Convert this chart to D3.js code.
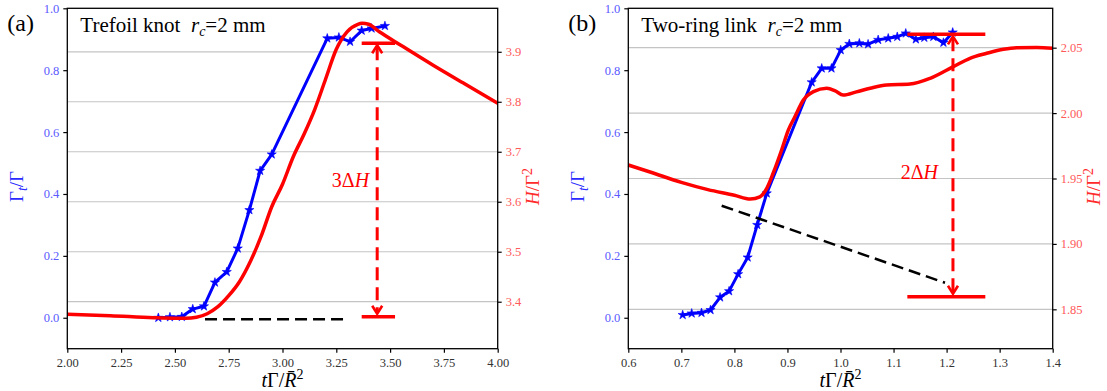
<!DOCTYPE html>
<html>
<head>
<meta charset="utf-8">
<script src="https://cdn.jsdelivr.net/npm/d3@7"></script>
<style>
  body { margin: 0; background: #fff; }
  svg, svg text { font-family: "Liberation Serif", "DejaVu Serif", serif; }
</style>
</head>
<body>
<svg id="chart" width="1107" height="391"></svg>
<script>
// ---- data ----
// shared left axis (Gamma_t / Gamma)
const gammaTicks = [0.0, 0.2, 0.4, 0.6, 0.8, 1.0];

// (a) trefoil knot
const trefoilTimeTicks = [2.00, 2.25, 2.50, 2.75, 3.00, 3.25, 3.50, 3.75, 4.00];
const trefoilHTicks = [3.4, 3.5, 3.6, 3.7, 3.8, 3.9];
const trefoilGammaT = [2.423, 2.477, 2.532, 2.583, 2.635, 2.686, 2.741, 2.792, 2.846, 2.896, 2.950, 3.208, 3.262, 3.314, 3.368, 3.414, 3.476];
const trefoilGammaV = [0.000, 0.002, 0.003, 0.028, 0.037, 0.114, 0.148, 0.224, 0.348, 0.475, 0.528, 0.903, 0.906, 0.892, 0.928, 0.935, 0.943];
const trefoilHelT = [2.00, 2.20, 2.40, 2.50, 2.55, 2.60, 2.65, 2.70, 2.75, 2.80, 2.85, 2.90, 2.95, 3.00, 3.05, 3.10, 3.15, 3.20, 3.25, 3.30, 3.35, 3.37, 3.40, 3.45, 3.55, 3.70, 3.85, 4.00];
const trefoilHelV = [3.375, 3.372, 3.368, 3.367, 3.367, 3.369, 3.376, 3.390, 3.412, 3.440, 3.480, 3.530, 3.590, 3.635, 3.690, 3.735, 3.785, 3.845, 3.905, 3.940, 3.955, 3.957, 3.955, 3.940, 3.913, 3.873, 3.835, 3.797];
const trefoilBaseT = [2.640, 3.306];
const trefoilBaseH = [3.365, 3.365];
const trefoilDeltaH = [3.917, 3.370];   // top / bottom level
const trefoilDeltaT = [3.368, 3.523];   // bar extent
const trefoilArrowT = 3.44;

// (b) two-ring link
const linkTimeTicks = [0.6, 0.7, 0.8, 0.9, 1.0, 1.1, 1.2, 1.3, 1.4];
const linkHTicks = [1.85, 1.90, 1.95, 2.00, 2.05];
const linkGammaT = [0.7025, 0.7195, 0.738, 0.755, 0.773, 0.790, 0.807, 0.825, 0.843, 0.861, 0.9457, 0.9646, 0.983, 1.0004, 1.0166, 1.0355, 1.052, 1.071, 1.090, 1.107, 1.123, 1.142, 1.158, 1.175, 1.194, 1.2115];
const linkGammaV = [0.009, 0.014, 0.016, 0.025, 0.066, 0.086, 0.141, 0.195, 0.300, 0.402, 0.761, 0.806, 0.806, 0.865, 0.885, 0.887, 0.884, 0.898, 0.903, 0.908, 0.919, 0.900, 0.905, 0.908, 0.889, 0.922];
const linkHelT = [0.600, 0.641, 0.700, 0.750, 0.800, 0.830, 0.848, 0.861, 0.873, 0.889, 0.9016, 0.914, 0.930, 0.949, 0.974, 0.990, 1.005, 1.030, 1.056, 1.087, 1.131, 1.169, 1.2126, 1.244, 1.2756, 1.307, 1.332, 1.370, 1.400];
const linkHelV = [1.9603, 1.9550, 1.9470, 1.9415, 1.9372, 1.9343, 1.9360, 1.9425, 1.9540, 1.9718, 1.9870, 1.9972, 2.0100, 2.0164, 2.0190, 2.0170, 2.0138, 2.0162, 2.0190, 2.0215, 2.0222, 2.0266, 2.0355, 2.0419, 2.0457, 2.0488, 2.0500, 2.0502, 2.0495];
const linkBaseT = [0.776, 1.197];
const linkBaseH = [1.9292, 1.8703];
const linkDeltaH = [2.0602, 1.8596];
const linkDeltaT = [1.126, 1.273];
const linkArrowT = 1.212;

// ---- drawing ----
const svg = d3.select("#chart");
const plotTop = 8.3, plotBottom = 348.7;
const blue = "#0000ff", red = "#ff0000";
const blueTick = "#5a5aff", redTick = "#ff5a5a";

function zip(a, b) { return a.map((v, i) => [v, b[i]]); }

function drawPanel(cfg) {
  const x = d3.scaleLinear().domain(cfg.tDomain).range([cfg.left, cfg.right]);
  const yG = d3.scaleLinear().domain([-0.1, 1.0]).range([plotBottom, plotTop]);
  const yH = d3.scaleLinear().domain(cfg.hDomain).range([plotBottom, plotTop]);
  const g = svg.append("g");

  // grid from the right axis
  g.selectAll(".grid").data(cfg.hTicks).join("line")
    .attr("x1", cfg.left).attr("x2", cfg.right)
    .attr("y1", d => yH(d)).attr("y2", d => yH(d))
    .attr("stroke", "#c4c4c4").attr("stroke-width", 1.2);

  // Gamma_t / Gamma with star markers
  const gammaPts = zip(cfg.gammaT, cfg.gammaV);
  g.append("path").datum(gammaPts)
    .attr("fill", "none").attr("stroke", blue).attr("stroke-width", 3)
    .attr("stroke-linejoin", "round")
    .attr("d", d3.line().x(d => x(d[0])).y(d => yG(d[1])));
  g.selectAll(".star").data(gammaPts).join("path")
    .attr("transform", d => `translate(${x(d[0])},${yG(d[1])})`)
    .attr("d", d3.symbol(d3.symbolStar, 26))
    .attr("fill", blue).attr("stroke", blue).attr("stroke-width", 0.6);

  // helicity curve
  g.append("path").datum(zip(cfg.helT, cfg.helV))
    .attr("fill", "none").attr("stroke", red).attr("stroke-width", 3.5)
    .attr("stroke-linejoin", "round")
    .attr("d", d3.line().x(d => x(d[0])).y(d => yH(d[1])).curve(d3.curveMonotoneX));

  // black dashed baseline
  g.append("path").datum(zip(cfg.baseT, cfg.baseH))
    .attr("fill", "none").attr("stroke", "#000").attr("stroke-width", 2.5)
    .attr("stroke-dasharray", "12,6")
    .attr("d", d3.line().x(d => x(d[0])).y(d => yH(d[1])));

  // delta H bars and double arrow
  g.selectAll(".bar").data(cfg.deltaH).join("line")
    .attr("x1", x(cfg.deltaT[0])).attr("x2", x(cfg.deltaT[1]))
    .attr("y1", d => yH(d)).attr("y2", d => yH(d))
    .attr("stroke", red).attr("stroke-width", 3.5);
  const ax = x(cfg.arrowT);
  const yTop = yH(cfg.deltaH[0]) + 2, yBot = yH(cfg.deltaH[1]) - 3;
  g.append("line")
    .attr("x1", ax).attr("x2", ax).attr("y1", yTop + 2).attr("y2", yBot - 2)
    .attr("stroke", red).attr("stroke-width", 3).attr("stroke-dasharray", "13,7");
  g.append("path")
    .attr("d", `M${ax - 5},${yTop + 8}L${ax},${yTop}L${ax + 5},${yTop + 8}M${ax - 5},${yBot - 8}L${ax},${yBot}L${ax + 5},${yBot - 8}`)
    .attr("fill", "none").attr("stroke", red).attr("stroke-width", 2.6)
    .attr("stroke-linejoin", "miter");

  const lab = g.append("text")
    .attr("x", ax - cfg.labelGap).attr("y", (yTop + yBot) / 2 + cfg.labelDy)
    .attr("text-anchor", "end").attr("fill", red).style("font-size", "20px");
  lab.append("tspan").text(cfg.deltaText);
  lab.append("tspan").attr("font-style", "italic").text("H");

  // axes
  const left = g.append("g").attr("transform", `translate(${cfg.left},0)`)
    .call(d3.axisLeft(yG).tickValues(gammaTicks).tickFormat(d3.format(".1f")).tickSize(4).tickPadding(4));
  const right = g.append("g").attr("transform", `translate(${cfg.right},0)`)
    .call(d3.axisRight(yH).tickValues(cfg.hTicks).tickFormat(d3.format(cfg.hFormat)).tickSize(4).tickPadding(4));
  const bottom = g.append("g").attr("transform", `translate(0,${plotBottom})`)
    .call(d3.axisBottom(x).tickValues(cfg.tTicks).tickFormat(d3.format(cfg.tFormat)).tickSize(4).tickPadding(5));
  [left, right, bottom].forEach(a => {
    a.attr("font-family", null).attr("font-size", null);
    a.select(".domain").remove();
    a.selectAll("line").attr("stroke", "#000").attr("stroke-width", 1.2);
    a.selectAll("text").style("font-size", "12.5px");
  });
  left.selectAll("text").attr("fill", blueTick);
  right.selectAll("text").attr("fill", redTick);
  bottom.selectAll("text").attr("fill", "#333");

  // frame
  g.append("rect")
    .attr("x", cfg.left).attr("y", plotTop)
    .attr("width", cfg.right - cfg.left).attr("height", plotBottom - plotTop)
    .attr("fill", "none").attr("stroke", "#000").attr("stroke-width", 1.3);

  // panel tag and title
  g.append("text").attr("x", cfg.left - 60).attr("y", 31)
    .style("font-size", "24px").attr("fill", "#000").text(cfg.tag);
  const title = g.append("text").attr("x", cfg.left + 13).attr("y", 32)
    .style("font-size", "21px").style("white-space", "pre").attr("fill", "#000");
  title.append("tspan").text(cfg.title + "  ");
  title.append("tspan").attr("font-style", "italic").text("r");
  title.append("tspan").attr("font-style", "italic").style("font-size", "14px").attr("dy", 4).text("c");
  title.append("tspan").attr("dy", -4).text("=2 mm");

  // axis labels
  const yl = g.append("text")
    .attr("transform", `translate(${cfg.left - 44},${(plotTop + plotBottom) / 2 + 8}) rotate(-90)`)
    .attr("text-anchor", "middle").attr("fill", "#2b2bff").style("font-size", "19px");
  yl.append("tspan").text("Γ");
  yl.append("tspan").attr("font-style", "italic").style("font-size", "14px").attr("dy", 4).text("t");
  yl.append("tspan").attr("dy", -4).text("/Γ");

  const yr = g.append("text")
    .attr("transform", `translate(${cfg.right + cfg.rightLabelGap},${(plotTop + plotBottom) / 2 + 8}) rotate(-90)`)
    .attr("text-anchor", "middle").attr("fill", "#ff2b2b").style("font-size", "19px");
  yr.append("tspan").attr("font-style", "italic").text("H");
  yr.append("tspan").text("/Γ");
  yr.append("tspan").style("font-size", "14px").attr("dy", -7).text("2");

  const xl = g.append("text")
    .attr("x", (cfg.left + cfg.right) / 2).attr("y", 387)
    .attr("text-anchor", "middle").attr("fill", "#000").style("font-size", "20px");
  xl.append("tspan").attr("font-style", "italic").text("t");
  xl.append("tspan").text("Γ/");
  xl.append("tspan").attr("font-style", "italic").text("R\u0304");
  xl.append("tspan").style("font-size", "14px").attr("dy", -8).text("2");
}

drawPanel({
  tag: "(a)", title: "Trefoil knot",
  left: 67.3, right: 497.7,
  tDomain: [2.0, 4.0], hDomain: [3.306, 3.987],
  tTicks: trefoilTimeTicks, tFormat: ".2f",
  hTicks: trefoilHTicks, hFormat: ".1f",
  gammaT: trefoilGammaT, gammaV: trefoilGammaV,
  helT: trefoilHelT, helV: trefoilHelV,
  baseT: trefoilBaseT, baseH: trefoilBaseH,
  deltaH: trefoilDeltaH, deltaT: trefoilDeltaT, arrowT: trefoilArrowT,
  deltaText: "3Δ", labelGap: 8, labelDy: 8,
  rightLabelGap: 41
});

drawPanel({
  tag: "(b)", title: "Two-ring link",
  left: 628.3, right: 1052.7,
  tDomain: [0.6, 1.4], hDomain: [1.8199, 2.0801],
  tTicks: linkTimeTicks, tFormat: ".1f",
  hTicks: linkHTicks, hFormat: ".2f",
  gammaT: linkGammaT, gammaV: linkGammaV,
  helT: linkHelT, helV: linkHelV,
  baseT: linkBaseT, baseH: linkBaseH,
  deltaH: linkDeltaH, deltaT: linkDeltaT, arrowT: linkArrowT,
  deltaText: "2Δ", labelGap: 15, labelDy: 14,
  rightLabelGap: 47
});
</script>
</body>
</html>
